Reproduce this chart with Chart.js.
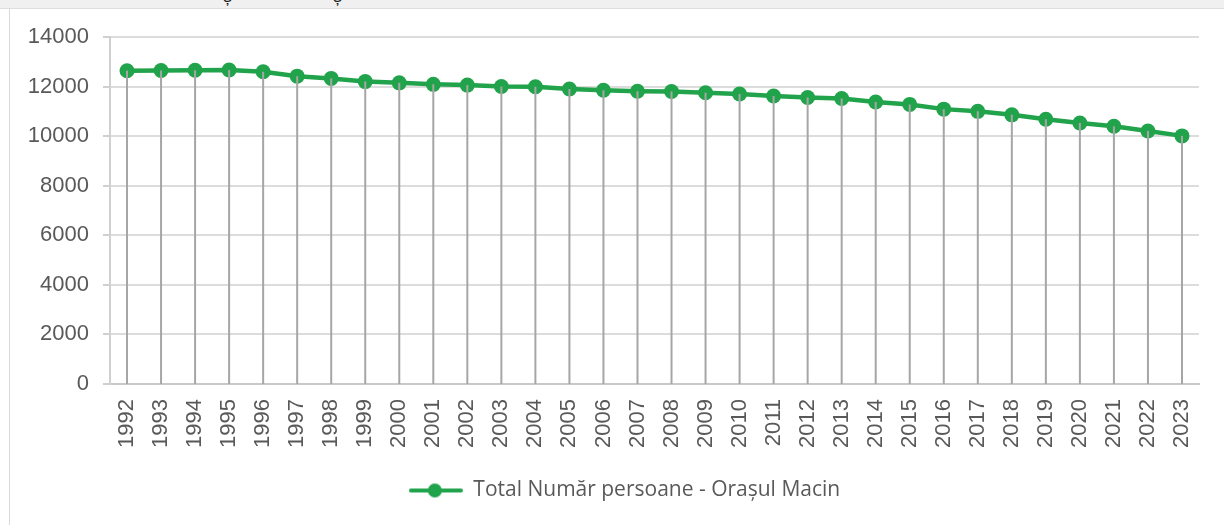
<!DOCTYPE html>
<html>
<head>
<meta charset="utf-8">
<script src="https://cdn.jsdelivr.net/npm/chart.js@4.4.1/dist/chart.umd.min.js"></script>
<style>
  html, body { margin: 0; padding: 0; background: #fff; }
  #strip { position: absolute; left: 0; top: 0; width: 1224px; height: 8px; background: #f0f0f0;
           border-bottom: 1px solid #dedede; overflow: hidden; font-family: "Liberation Sans", sans-serif; font-size: 18px; color: #222; }
  #strip span { position: absolute; top: -14px; }
  #box { position: absolute; left: 9px; top: 9px; width: 1215px; height: 516px; border-left: 1px solid #d9d9d9; }
  #wrap { position: absolute; left: 10px; top: 9px; width: 1214px; height: 516px; }
</style>
</head>
<body>
<div id="strip"><span style="left:223px">ș</span><span style="left:333px">ș</span></div>
<div id="box"></div>
<div id="wrap"><canvas id="grafic"></canvas></div>
<script>
// Datele graficului
var ani = ['1992','1993','1994','1995','1996','1997','1998','1999','2000','2001','2002',
           '2003','2004','2005','2006','2007','2008','2009','2010','2011','2012','2013',
           '2014','2015','2016','2017','2018','2019','2020','2021','2022','2023'];
var persoane = [12640, 12650, 12660, 12670, 12600, 12420, 12330, 12200, 12150, 12090, 12060,
                12000, 11990, 11900, 11850, 11810, 11800, 11750, 11700, 11620, 11560, 11520,
                11380, 11280, 11090, 11000, 10860, 10680, 10530, 10400, 10210, 10010];
var eticheta = 'Total Număr persoane - Orașul Macin';
var verde = '#21a34b';

// Iconita din legenda: linie cu punct
var icon = document.createElement('canvas');
icon.width = 54; icon.height = 16;
var ic = icon.getContext('2d');
ic.strokeStyle = verde; ic.lineWidth = 4; ic.lineCap = 'round';
ic.beginPath(); ic.moveTo(2, 8); ic.lineTo(52, 8); ic.stroke();
ic.fillStyle = verde;
ic.beginPath(); ic.arc(26, 8, 7, 0, Math.PI * 2); ic.fill();

// Liniile verticale de la punct la axa
var linii = {
    id: 'linii',
    afterLayout(chart) {
        // legenda centrata pe toata caseta, nu doar pe zona fara padding
        chart.legend.left += 20;
        chart.legend.right += 20;
    },
    afterDatasetsDraw(chart) {
        var c = chart.ctx;
        var jos = chart.scales.y.getPixelForValue(0);
        var meta = chart.getDatasetMeta(0);
        c.save();
        c.strokeStyle = '#a6a6a6';
        c.lineWidth = 2;
        meta.data.forEach(function (p) {
            c.beginPath();
            c.moveTo(p.x, p.y);
            c.lineTo(p.x, jos);
            c.stroke();
        });
        c.restore();
    }
};

document.addEventListener('DOMContentLoaded', function () {
    var ctx = document.getElementById('grafic').getContext('2d');
    new Chart(ctx, {
        type: 'line',
        data: {
            labels: ani,
            datasets: [{
                label: eticheta,
                data: persoane,
                borderColor: verde,
                backgroundColor: verde,
                borderWidth: 4.5,
                pointRadius: 7.5,
                pointHoverRadius: 7.5,
                pointBackgroundColor: verde,
                pointBorderWidth: 0,
                tension: 0
            }]
        },
        options: {
            responsive: true,
            maintainAspectRatio: false,
            animation: false,
            layout: { padding: { top: 28, right: 25, bottom: 14, left: 0 } },
            scales: {
                x: {
                    offset: true,
                    grid: { display: false, drawTicks: false },
                    border: { display: true, color: '#c8c8c8', width: 2 },
                    ticks: {
                        color: '#595959',
                        font: { family: 'Liberation Sans', size: 22 },
                        minRotation: 90,
                        maxRotation: 90,
                        autoSkip: false,
                        padding: 15
                    },
                    afterFit: function (s) { s.height = 86; }
                },
                y: {
                    min: 0,
                    max: 14000,
                    ticks: {
                        stepSize: 2000,
                        color: '#595959',
                        font: { family: 'Liberation Sans', size: 22 },
                        padding: 14,
                        callback: function (v) { return String(v); }
                    },
                    grid: { color: '#dcdcdc', lineWidth: 2, tickLength: 7, tickColor: '#d0d0d0' },
                    border: { display: true, color: '#d0d0d0', width: 2 },
                    afterFit: function (s) { s.width = 100; }
                }
            },
            plugins: {
                legend: {
                    position: 'bottom',
                    labels: {
                        usePointStyle: true,
                        pointStyleWidth: 54,
                        color: '#595959',
                        font: { family: 'Open Sans', size: 21 },
                        padding: 10,
                        generateLabels: function (chart) {
                            var items = Chart.defaults.plugins.legend.labels.generateLabels(chart);
                            items.forEach(function (i) { i.pointStyle = icon; });
                            return items;
                        }
                    }
                },
                tooltip: { enabled: false }
            }
        },
        plugins: [linii]
    });
});
</script>
</body>
</html>
